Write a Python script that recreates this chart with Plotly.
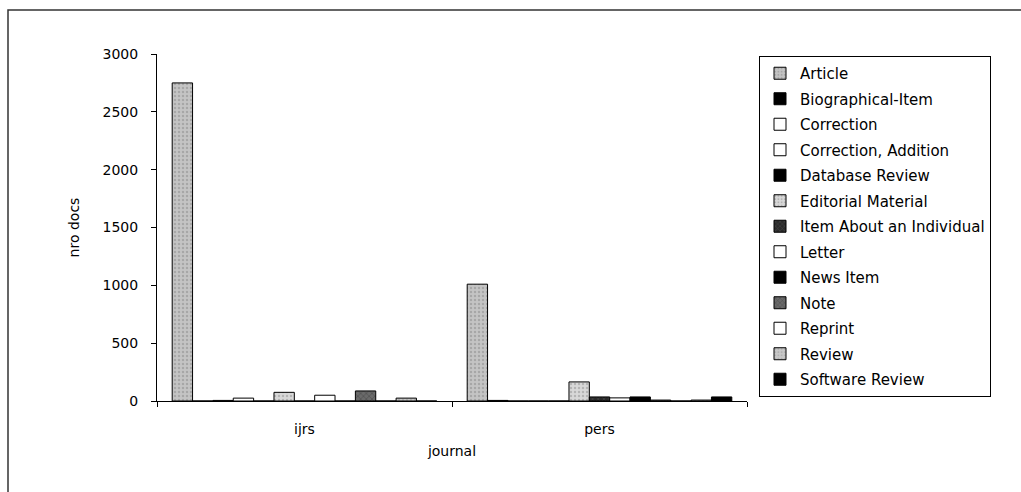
import plotly.graph_objects as go

journals = ["ijrs", "pers"]
series = ["Article", "Biographical-Item", "Correction", "Correction, Addition",
          "Database Review", "Editorial Material", "Item About an Individual",
          "Letter", "News Item", "Note", "Reprint", "Review", "Software Review"]
ijrs_vals = [2750, 0, 5, 25, 0, 75, 0, 50, 0, 87, 0, 25, 0]
pers_vals = [1010, 5, 0, 0, 0, 165, 35, 27, 35, 8, 0, 8, 35]
y_ticks = [0, 500, 1000, 1500, 2000, 2500, 3000]

styles = [
    ("#c4c4c4", ".", "#8a8a8a"),   # Article
    ("#000000", "", None),         # Biographical-Item
    ("#ffffff", "", None),         # Correction
    ("#ffffff", "", None),         # Correction, Addition
    ("#000000", "", None),         # Database Review
    ("#d8d8d8", ".", "#909090"),   # Editorial Material
    ("#2a2a2a", "x", "#606060"),   # Item About an Individual
    ("#ffffff", "", None),         # Letter
    ("#000000", "", None),         # News Item
    ("#6a6a6a", "x", "#303030"),   # Note
    ("#ffffff", "", None),         # Reprint
    ("#c8c8c8", ".", "#9a9a9a"),   # Review
    ("#000000", "", None),         # Software Review
]

FONT = "DejaVu Sans"
fig = go.Figure()
for i, name in enumerate(series):
    fill, shape, fg = styles[i]
    pattern = dict(shape=shape, fgcolor=fg, bgcolor=fill, size=4, solidity=0.3) if shape else dict(shape="")
    fig.add_trace(go.Bar(
        name=name, x=journals, y=[ijrs_vals[i], pers_vals[i]],
        legendgroup=name,
        marker=dict(color=fill, line=dict(color="#000000", width=1), pattern=pattern),
    ))

L, R_EDGE, T, B = 157, 747, 54, 401.5
W, H = 1021, 492
pw, ph = R_EDGE - L, B - T

def px(xp):
    return (xp - L) / pw

def py(yp):
    return (B - yp) / ph

fig.update_layout(
    width=W, height=H,
    margin=dict(l=L, r=W - R_EDGE, t=T, b=H - B, pad=0),
    paper_bgcolor="white", plot_bgcolor="white",
    barmode="group", bargap=0.103, bargroupgap=0,
    font=dict(family=FONT, size=14, color="black"),
    legend=dict(
        x=px(759), y=py(56), xanchor="left", yanchor="top",
        bordercolor="black", borderwidth=1, bgcolor="white",
        font=dict(family=FONT, size=15, color="black"),
        tracegroupgap=3, itemwidth=30, maxheight=1000,
    ),
    xaxis=dict(
        showline=True, linecolor="black", linewidth=1,
        ticks="outside", ticklen=5, tickcolor="black", tickson="boundaries",
        showgrid=False, ticklabelstandoff=15,
        tickfont=dict(family=FONT, size=14),
        title=dict(text="journal", font=dict(family=FONT, size=14), standoff=10),
    ),
    yaxis=dict(
        range=[0, 3000], tickvals=y_ticks,
        showline=True, linecolor="black", linewidth=1,
        ticks="outside", ticklen=5, tickcolor="black",
        showgrid=False, zeroline=False, ticklabelstandoff=10,
        tickfont=dict(family=FONT, size=14),
        title=dict(text="nro docs", font=dict(family=FONT, size=14), standoff=19),
    ),
    shapes=[dict(type="rect", xref="paper", yref="paper",
                 x0=px(8), y0=py(10), x1=px(1040), y1=py(510),
                 line=dict(color="#333333", width=1.5), fillcolor="rgba(0,0,0,0)",
                 layer="below")],
)

fig.write_html("out.html")
